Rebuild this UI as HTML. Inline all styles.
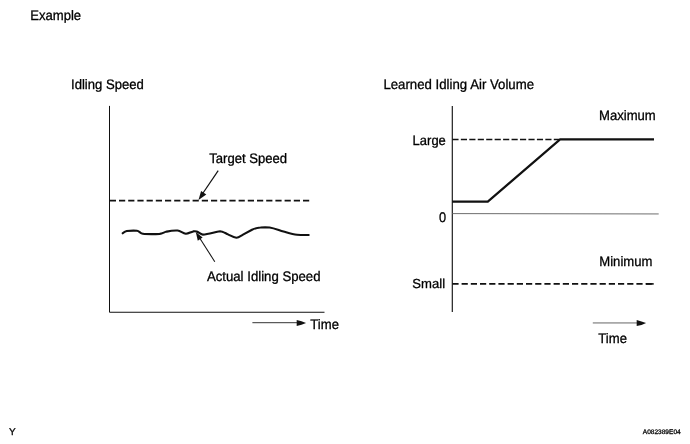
<!DOCTYPE html>
<html>
<head>
<meta charset="utf-8">
<title>Example</title>
<style>
html,body{margin:0;padding:0;background:#fff;}
body{width:690px;height:444px;overflow:hidden;}
svg{display:block;}
text{font-family:"Liberation Sans",Arial,Helvetica,sans-serif;fill:#000;text-rendering:geometricPrecision;}
.t{font-size:13.1px;stroke:#000;stroke-width:0.28px;}
</style>
</head>
<body>
<svg width="690" height="444" viewBox="0 0 690 444">
<rect width="690" height="444" fill="#fff"/>

<!-- labels -->
<text class="t" transform="translate(30.2 20) scale(1 1.05)" style="font-size:13.1px">Example</text>
<text class="t" transform="translate(71.0 89) scale(1 1.05)" style="font-size:13.1px">Idling Speed</text>
<text class="t" transform="translate(209.2 163) scale(1 1.05)" style="font-size:13.1px">Target Speed</text>
<text class="t" transform="translate(206.9 281) scale(1 1.05)" style="font-size:13.2px">Actual Idling Speed</text>
<text class="t" transform="translate(310.3 329) scale(1 1.05)" style="font-size:13.1px">Time</text>
<text class="t" transform="translate(383.4 89) scale(1 1.05)" style="font-size:13.22px">Learned Idling Air Volume</text>
<text class="t" transform="translate(599.0 120) scale(1 1.05)" style="font-size:13.1px">Maximum</text>
<text class="t" transform="translate(412.6 145) scale(1 1.05)" style="font-size:13.0px">Large</text>
<text class="t" transform="translate(438.9 222) scale(1 1.09)" style="font-size:12.8px">0</text>
<text class="t" transform="translate(599.3 266) scale(1 1.05)" style="font-size:13.1px">Minimum</text>
<text class="t" transform="translate(412.3 288) scale(1 1.0)" style="font-size:13.1px">Small</text>
<text class="t" transform="translate(598.3 343) scale(1 1.05)" style="font-size:13.1px">Time</text>
<text x="9" y="434.6" style="font-size:10px;stroke:#111;stroke-width:0.3px">Y</text>
<text x="642.8" y="434" style="font-size:6.55px;stroke:#111;stroke-width:0.32px">A082389E04</text>

<!-- left chart -->
<g fill="none" stroke="#111" stroke-linecap="butt">
<path d="M109.5 105.9 V312.25 H324.5" stroke-width="1"/>
<path d="M109.8 200.6 H309.5" stroke-width="1.6" stroke-dasharray="6.2 3"/>
<path d="M218.2 170.6 L201 196" stroke-width="1.2"/>
<path d="M214.8 261.7 L199.5 237.8" stroke-width="1.05"/>
<path d="M122.7 233.3 C123.6 232.4 124.9 231.4 126.7 231 C130 230.6 134 230.5 137 230.7 C138.8 230.8 139.8 232.6 141.5 233.4 C142.5 233.9 143.5 234 144.5 234 C149.5 234.2 155 234.2 159.7 233.9 C162.3 233.6 164.3 232.2 166.7 231.6 C170.3 230.8 174 230.3 177.6 230.5 C180.5 230.9 182.8 233.2 185.8 233.8 C188.5 233.9 190.5 232 193.2 231.4 C194.4 231.2 195.6 231.2 196.7 231.5 C198.9 232.3 200.4 234.3 202.8 234.6 C208.5 234.2 214.5 232.1 220.2 231.2 C222 231.2 225 233 228 234.4 C230.8 235.7 233.5 237.5 236.4 237.7 C238.5 237.5 240.5 236 243 234.6 L252 229.8 C254.8 228.4 257.8 227.6 260.5 227.5 C263.5 227.3 266.8 227.3 269.6 227.5 C274.4 228.3 278.9 230.2 283.5 231.5 C288 232.8 292.6 234.4 297 234.8 C301 235.1 305 235.1 308.7 235" stroke-width="2.1" stroke-linejoin="round" stroke-linecap="round"/>
<path d="M252.4 322.7 H299" stroke-width="0.85"/>
</g>
<g fill="#111" stroke="none">
<path d="M198.5 200.1 L201.1 190.9 L206.3 194.5 Z"/>
<path d="M195.8 231.9 L202.6 237.6 L197.8 240.7 Z"/>
<path d="M306.1 323 L301.5 321.3 L296.7 320.1 L296.7 326 L301.5 324.8 Z"/>
</g>

<!-- right chart -->
<g fill="none" stroke="#111">
<path d="M452.3 105.9 V312.1" stroke-width="1.15" stroke="#151515"/>
<path d="M452.4 139.4 H559" stroke-width="1.5" stroke-dasharray="6.15 2.3"/>
<path d="M452.2 201.65 H487.8 L560.1 139.45 H654" stroke-width="2.2" stroke-linejoin="miter"/>
<path d="M452.4 213.6 L658.7 213.95" stroke-width="1" stroke="#6e6e6e"/>
<path d="M452.4 283.9 H654.2" stroke-width="1.6" stroke-dasharray="6.2 3"/>
<path d="M646 283.9 H653.7" stroke-width="1.6"/>
<path d="M592.8 322.95 H638.5" stroke-width="0.75" stroke="#333"/>
</g>
<path d="M646.1 323.1 L641.5 321.4 L636.7 320.1 L636.7 326.1 L641.5 324.9 Z" fill="#111"/>
</svg>
</body>
</html>
